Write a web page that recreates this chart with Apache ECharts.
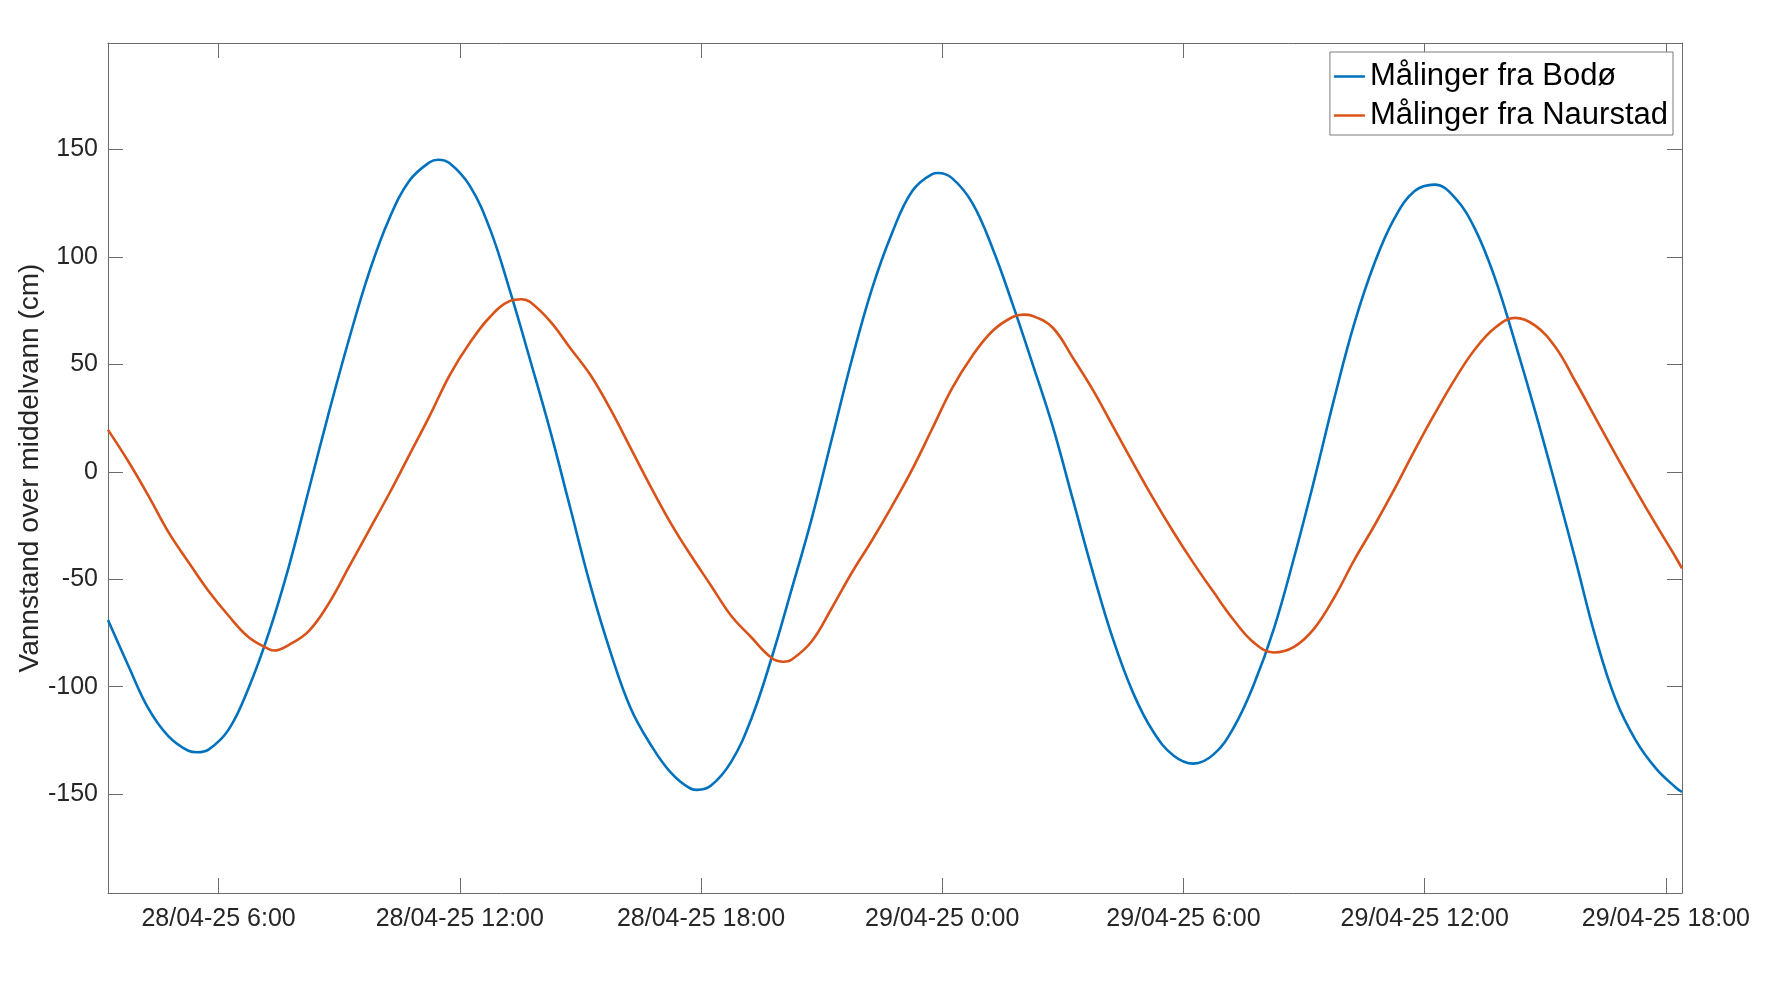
<!DOCTYPE html>
<html><head><meta charset="utf-8">
<script src="https://cdn.jsdelivr.net/npm/echarts@6/dist/echarts.min.js"></script>
<style>html,body{margin:0;padding:0;background:#fff}#c{width:1766px;height:994px}</style>
</head><body><div id="c"></div>
<script>
const seriesNames = ['Målinger fra Bodø', 'Målinger fra Naurstad'];
// sample times in hours after 28/04-25 00:00 (first sample 03:15, every 30 min, last at 18:24 the next day)
const startHour = 3.25;
const stepHours = 0.5;
const endHour = 42.4;

const bodo = [-69, -90, -110, -123, -129.8, -129.3, -120, -100.5, -75, -44,
  -8, 28, 62, 93, 118, 135.5, 144, 143.5, 133, 113,
  84, 52, 19, -17, -53, -84, -110, -127, -140, -147.5,
  -146, -135, -115, -87, -55, -22, 15, 52, 85, 111,
  130.5, 138.5, 136.5, 125, 104, 78, 50, 21, -13, -47,
  -78, -103, -121, -132, -135.8, -131.5, -119, -99, -73, -40,
  -4, 34, 69, 97, 118, 130.6, 133.6, 127.5, 113, 90,
  60, 28, -6, -41, -77, -106, -125, -138, -147, -149];

const naurstad = [19.5, 5, -11, -28, -42, -55.5, -67, -77, -82.5, -80.5,
  -74, -61, -44, -27, -10, 8, 26, 45, 60, 72,
  79.5, 79, 70, 57.5, 45, 29, 11, -7, -24, -39,
  -53, -67, -77, -86.5, -87.5, -79, -63.5, -47, -32, -16,
  1, 20, 39, 54, 65.5, 72, 72.5, 67, 53, 38,
  21, 4, -12.5, -28, -42.5, -56, -69, -79.5, -84.1, -81.5,
  -73, -58.5, -41, -25, -8, 10, 27, 43, 57, 67,
  71.6, 68, 58, 42, 25, 8, -8.5, -24.5, -40, -45];

// turning points read between the half-hour samples: [hour, value]
const bodoTurns = [[5.467, -130.5], [11.467, 145.2], [17.9, -148], [23.9, 139]];
const naurstadTurns = [[7.383, -83.2], [13.533, 80.3], [20.05, -88.4], [26.017, 73.1]];

const xTicks = [6, 12, 18, 24, 30, 36, 42];
const yTicks = [-150, -100, -50, 0, 50, 100, 150];
const yMin = -196, yMax = 199.5;

function sampleHour(i, n) { return i === n - 1 ? endHour : startHour + i * stepHours; }
function pairs(arr, turns) {
  return arr.map((v, i) => [sampleHour(i, arr.length), v]).concat(turns).sort((a, b) => a[0] - b[0]);
}
function tickLabel(h) {
  const d = 28 + Math.floor(h / 24);
  const hh = h % 24;
  return d + '/04-25 ' + hh + ':00';
}

const axisColor = '#6b6b6b';
const textColor = '#262626';
const font = '"Liberation Sans", Arial, Helvetica, sans-serif';

function frameAxis(extra) {
  return Object.assign({
    type: 'value',
    axisLine: { show: true, onZero: false, lineStyle: { color: axisColor, width: 1 } },
    splitLine: { show: false }
  }, extra);
}

const chart = echarts.init(document.getElementById('c'), null, { renderer: 'canvas' });
chart.setOption({
  animation: false,
  backgroundColor: '#ffffff',
  textStyle: { fontFamily: font },
  grid: { left: 108, top: 43, right: 84, bottom: 101, containLabel: false },
  legend: {
    orient: 'vertical',
    top: 52, right: 93,
    padding: [9, 5, 4, 4],
    itemGap: 8,
    itemWidth: 31,
    itemHeight: 2.5,
    icon: 'rect',
    borderColor: '#7a7a7a',
    borderWidth: 1,
    backgroundColor: '#ffffff',
    textStyle: { fontSize: 31, color: '#000000', fontFamily: font },
    data: seriesNames
  },
  xAxis: [
    frameAxis({
      min: startHour, max: endHour, position: 'bottom',
      axisTick: { show: true, inside: true, length: 15, customValues: xTicks, lineStyle: { color: axisColor } },
      axisLabel: { show: true, customValues: xTicks, formatter: tickLabel, margin: 14, fontSize: 25, color: textColor, fontFamily: font }
    }),
    frameAxis({
      min: startHour, max: endHour, position: 'top',
      axisTick: { show: true, inside: true, length: 15, customValues: xTicks, lineStyle: { color: axisColor } },
      axisLabel: { show: false }
    })
  ],
  yAxis: [
    frameAxis({
      min: yMin, max: yMax, position: 'left',
      name: 'Vannstand over middelvann (cm)',
      nameLocation: 'middle', nameGap: 64, nameMoveOverlap: false,
      nameTextStyle: { fontSize: 28, color: textColor, fontFamily: font },
      axisTick: { show: true, inside: true, length: 15, customValues: yTicks, lineStyle: { color: axisColor } },
      axisLabel: { show: true, customValues: yTicks, margin: 10, fontSize: 25, color: textColor, fontFamily: font }
    }),
    frameAxis({
      min: yMin, max: yMax, position: 'right',
      axisTick: { show: true, inside: true, length: 15, customValues: yTicks, lineStyle: { color: axisColor } },
      axisLabel: { show: false }
    })
  ],
  series: [
    {
      name: seriesNames[0], type: 'line', xAxisIndex: 0, yAxisIndex: 0,
      data: pairs(bodo, bodoTurns), symbol: 'none', smooth: 0.4,
      lineStyle: { color: '#0072BD', width: 2.6 }, itemStyle: { color: '#0072BD' }
    },
    {
      name: seriesNames[1], type: 'line', xAxisIndex: 0, yAxisIndex: 0,
      data: pairs(naurstad, naurstadTurns), symbol: 'none', smooth: 0.4,
      lineStyle: { color: '#D95319', width: 2.6 }, itemStyle: { color: '#D95319' }
    }
  ]
});
</script>
</body></html>
